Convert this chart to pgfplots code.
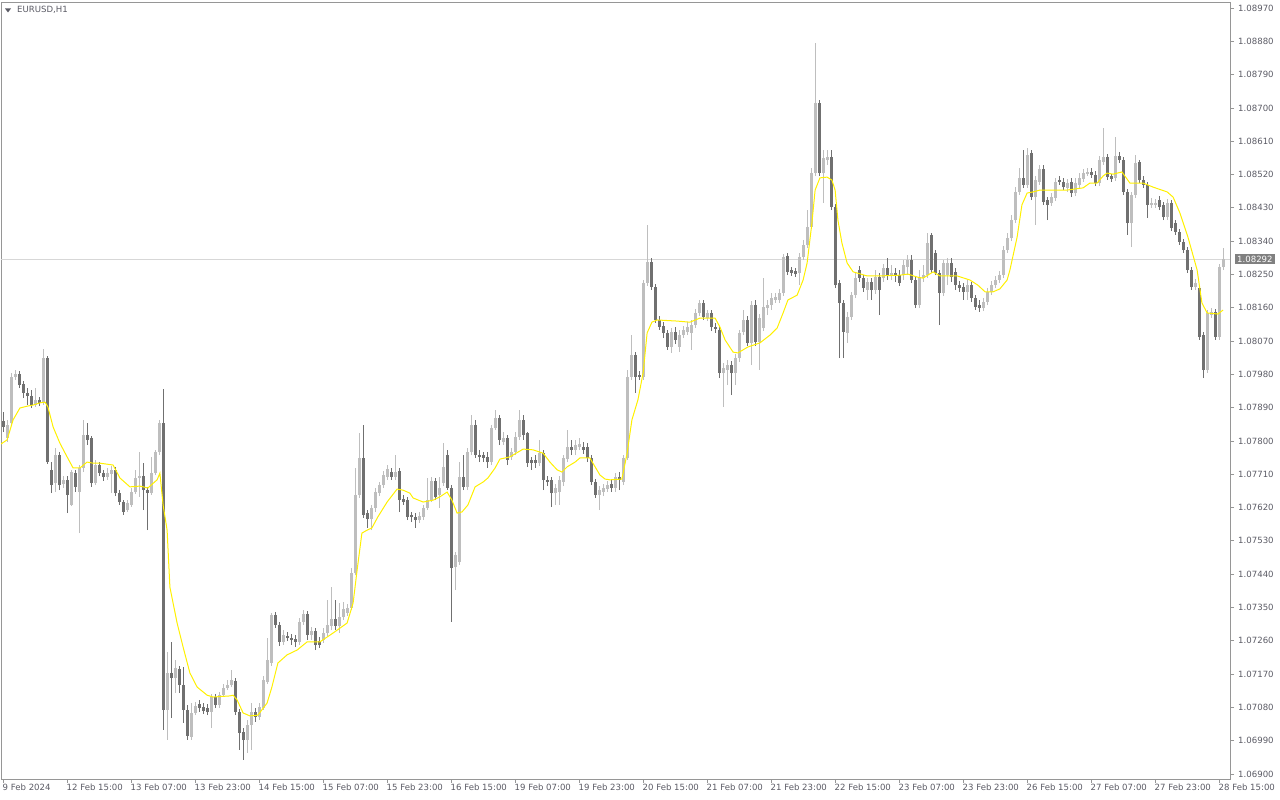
\documentclass[border=0pt]{standalone}
\usepackage{pgfplots}
\pgfplotsset{compat=1.18}
\usepackage{pgfplotstable}
\usepackage{fontspec}
\setmainfont{DejaVu Sans}
\definecolor{upc}{RGB}{190,190,190}
\definecolor{dnc}{RGB}{112,112,112}
\definecolor{mac}{RGB}{255,240,0}
\definecolor{axc}{RGB}{150,150,150}
\definecolor{txc}{RGB}{90,90,100}
\definecolor{pricec}{RGB}{215,215,215}
\definecolor{boxc}{RGB}{128,128,128}

\pgfplotstableread{
i o h l c
0 1.07854 1.07878 1.07824 1.07838
1 1.07808 1.07857 1.07797 1.07843
2 1.07849 1.07984 1.07840 1.07973
3 1.07973 1.07992 1.07965 1.07981
4 1.07981 1.07989 1.07943 1.07951
5 1.07954 1.07962 1.07916 1.07930
6 1.07930 1.07943 1.07897 1.07922
7 1.07922 1.07938 1.07889 1.07897
8 1.07897 1.07943 1.07892 1.07911
9 1.07911 1.07919 1.07894 1.07903
10 1.07903 1.08049 1.07897 1.08024
11 1.08024 1.08030 1.07738 1.07743
12 1.07722 1.07743 1.07659 1.07681
13 1.07686 1.07781 1.07662 1.07762
14 1.07762 1.07770 1.07667 1.07681
15 1.07684 1.07705 1.07673 1.07695
16 1.07695 1.07705 1.07605 1.07654
17 1.07627 1.07722 1.07624 1.07716
18 1.07713 1.07722 1.07662 1.07676
19 1.07662 1.07735 1.07551 1.07727
20 1.07727 1.07857 1.07716 1.07816
21 1.07816 1.07849 1.07789 1.07803
22 1.07808 1.07813 1.07676 1.07686
23 1.07686 1.07749 1.07681 1.07735
24 1.07735 1.07743 1.07705 1.07713
25 1.07713 1.07722 1.07692 1.07703
26 1.07703 1.07727 1.07695 1.07713
27 1.07711 1.07732 1.07659 1.07722
28 1.07722 1.07730 1.07651 1.07659
29 1.07659 1.07667 1.07627 1.07635
30 1.07635 1.07640 1.07600 1.07608
31 1.07613 1.07640 1.07608 1.07632
32 1.07627 1.07673 1.07622 1.07662
33 1.07662 1.07722 1.07657 1.07700
34 1.07700 1.07770 1.07649 1.07705
35 1.07705 1.07740 1.07613 1.07667
36 1.07667 1.07676 1.07559 1.07659
37 1.07659 1.07757 1.07654 1.07713
38 1.07713 1.07776 1.07708 1.07770
39 1.07770 1.07857 1.07762 1.07849
40 1.07849 1.07940 1.07019 1.07073
41 1.07073 1.07230 1.06992 1.07173
42 1.07173 1.07257 1.07051 1.07159
43 1.07159 1.07208 1.07119 1.07186
44 1.07184 1.07192 1.07119 1.07141
45 1.07141 1.07189 1.07038 1.07073
46 1.07073 1.07086 1.06992 1.07003
47 1.07000 1.07092 1.06992 1.07065
48 1.07065 1.07095 1.07059 1.07084
49 1.07089 1.07100 1.07068 1.07078
50 1.07081 1.07092 1.07062 1.07070
51 1.07078 1.07089 1.07059 1.07068
52 1.07068 1.07116 1.07024 1.07108
53 1.07108 1.07116 1.07078 1.07086
54 1.07086 1.07122 1.07078 1.07113
55 1.07113 1.07143 1.07108 1.07132
56 1.07132 1.07154 1.07127 1.07141
57 1.07141 1.07181 1.07135 1.07154
58 1.07151 1.07159 1.07059 1.07068
59 1.07068 1.07076 1.06965 1.07011
60 1.07014 1.07024 1.06938 1.06992
61 1.06992 1.07046 1.06957 1.07032
62 1.07032 1.07092 1.06965 1.07068
63 1.07068 1.07078 1.07041 1.07054
64 1.07054 1.07092 1.07046 1.07081
65 1.07078 1.07165 1.07073 1.07154
66 1.07149 1.07268 1.07143 1.07208
67 1.07200 1.07335 1.07192 1.07330
68 1.07330 1.07338 1.07295 1.07303
69 1.07303 1.07311 1.07246 1.07257
70 1.07257 1.07289 1.07249 1.07276
71 1.07273 1.07284 1.07259 1.07268
72 1.07268 1.07278 1.07249 1.07262
73 1.07265 1.07276 1.07243 1.07257
74 1.07257 1.07322 1.07249 1.07311
75 1.07311 1.07343 1.07303 1.07332
76 1.07332 1.07340 1.07262 1.07276
77 1.07276 1.07297 1.07262 1.07286
78 1.07286 1.07295 1.07235 1.07249
79 1.07259 1.07270 1.07241 1.07249
80 1.07262 1.07295 1.07254 1.07281
81 1.07281 1.07370 1.07273 1.07303
82 1.07300 1.07405 1.07289 1.07319
83 1.07319 1.07370 1.07289 1.07300
84 1.07300 1.07362 1.07281 1.07324
85 1.07324 1.07365 1.07316 1.07346
86 1.07335 1.07359 1.07327 1.07349
87 1.07349 1.07457 1.07343 1.07443
88 1.07443 1.07727 1.07438 1.07654
89 1.07654 1.07822 1.07646 1.07754
90 1.07754 1.07843 1.07592 1.07600
91 1.07605 1.07613 1.07565 1.07589
92 1.07589 1.07627 1.07559 1.07619
93 1.07619 1.07673 1.07608 1.07662
94 1.07659 1.07689 1.07651 1.07681
95 1.07681 1.07719 1.07673 1.07708
96 1.07703 1.07735 1.07695 1.07724
97 1.07716 1.07727 1.07695 1.07703
98 1.07703 1.07762 1.07695 1.07716
99 1.07719 1.07727 1.07608 1.07640
100 1.07643 1.07654 1.07627 1.07635
101 1.07640 1.07649 1.07586 1.07595
102 1.07600 1.07608 1.07581 1.07595
103 1.07595 1.07605 1.07565 1.07586
104 1.07586 1.07608 1.07578 1.07597
105 1.07595 1.07627 1.07586 1.07619
106 1.07619 1.07700 1.07613 1.07640
107 1.07640 1.07703 1.07635 1.07692
108 1.07692 1.07700 1.07640 1.07649
109 1.07654 1.07703 1.07619 1.07673
110 1.07686 1.07794 1.07678 1.07730
111 1.07762 1.07776 1.07667 1.07673
112 1.07673 1.07681 1.07311 1.07457
113 1.07459 1.07500 1.07397 1.07492
114 1.07473 1.07743 1.07465 1.07703
115 1.07703 1.07762 1.07667 1.07676
116 1.07676 1.07781 1.07667 1.07770
117 1.07770 1.07870 1.07762 1.07843
118 1.07843 1.07857 1.07754 1.07762
119 1.07762 1.07776 1.07743 1.07757
120 1.07762 1.07770 1.07743 1.07754
121 1.07757 1.07770 1.07727 1.07743
122 1.07743 1.07843 1.07735 1.07835
123 1.07835 1.07884 1.07830 1.07862
124 1.07862 1.07870 1.07789 1.07803
125 1.07797 1.07824 1.07789 1.07808
126 1.07808 1.07816 1.07735 1.07749
127 1.07757 1.07781 1.07749 1.07770
128 1.07770 1.07824 1.07762 1.07811
129 1.07811 1.07884 1.07803 1.07857
130 1.07857 1.07870 1.07803 1.07816
131 1.07822 1.07824 1.07730 1.07740
132 1.07749 1.07757 1.07722 1.07740
133 1.07749 1.07762 1.07727 1.07740
134 1.07740 1.07803 1.07732 1.07767
135 1.07767 1.07776 1.07667 1.07695
136 1.07695 1.07705 1.07678 1.07689
137 1.07695 1.07703 1.07622 1.07659
138 1.07659 1.07684 1.07627 1.07673
139 1.07662 1.07705 1.07627 1.07695
140 1.07689 1.07762 1.07678 1.07754
141 1.07751 1.07830 1.07743 1.07784
142 1.07784 1.07803 1.07762 1.07776
143 1.07776 1.07803 1.07762 1.07789
144 1.07784 1.07808 1.07776 1.07792
145 1.07784 1.07797 1.07765 1.07776
146 1.07784 1.07794 1.07743 1.07754
147 1.07754 1.07762 1.07681 1.07689
148 1.07689 1.07697 1.07646 1.07654
149 1.07654 1.07678 1.07613 1.07667
150 1.07662 1.07684 1.07651 1.07673
151 1.07670 1.07692 1.07662 1.07681
152 1.07684 1.07695 1.07662 1.07673
153 1.07673 1.07713 1.07662 1.07703
154 1.07703 1.07716 1.07667 1.07695
155 1.07689 1.07762 1.07681 1.07754
156 1.07754 1.07992 1.07749 1.07973
157 1.07973 1.08086 1.07965 1.08032
158 1.08032 1.08040 1.07930 1.07973
159 1.07978 1.07989 1.07965 1.07973
160 1.07973 1.08235 1.07965 1.08227
161 1.08227 1.08384 1.08219 1.08284
162 1.08284 1.08294 1.08208 1.08216
163 1.08216 1.08224 1.08119 1.08127
164 1.08127 1.08138 1.08100 1.08108
165 1.08111 1.08121 1.08078 1.08092
166 1.08092 1.08100 1.08046 1.08054
167 1.08054 1.08105 1.08038 1.08094
168 1.08094 1.08108 1.08062 1.08073
169 1.08054 1.08100 1.08040 1.08086
170 1.08086 1.08111 1.08078 1.08100
171 1.08094 1.08121 1.08086 1.08108
172 1.08092 1.08127 1.08046 1.08113
173 1.08113 1.08157 1.08105 1.08146
174 1.08146 1.08181 1.08138 1.08173
175 1.08173 1.08181 1.08127 1.08135
176 1.08132 1.08154 1.08124 1.08146
177 1.08146 1.08154 1.08097 1.08108
178 1.08108 1.08119 1.08092 1.08103
179 1.08100 1.08108 1.07970 1.07984
180 1.07984 1.08011 1.07892 1.07997
181 1.07992 1.08019 1.07951 1.08005
182 1.08005 1.08016 1.07924 1.07984
183 1.07984 1.08035 1.07951 1.08024
184 1.08024 1.08100 1.08013 1.08092
185 1.08094 1.08154 1.08086 1.08127
186 1.08127 1.08138 1.08057 1.08065
187 1.08065 1.08178 1.08005 1.08167
188 1.08167 1.08181 1.08057 1.08067
189 1.08067 1.08143 1.07992 1.08132
190 1.08105 1.08240 1.08097 1.08162
191 1.08159 1.08181 1.08140 1.08167
192 1.08167 1.08200 1.08154 1.08186
193 1.08181 1.08200 1.08173 1.08189
194 1.08181 1.08211 1.08173 1.08200
195 1.08200 1.08305 1.08192 1.08297
196 1.08300 1.08308 1.08248 1.08257
197 1.08262 1.08270 1.08246 1.08254
198 1.08259 1.08267 1.08243 1.08251
199 1.08254 1.08308 1.08221 1.08297
200 1.08297 1.08343 1.08289 1.08330
201 1.08330 1.08424 1.08321 1.08378
202 1.08378 1.08538 1.08373 1.08524
203 1.08524 1.08875 1.08516 1.08713
204 1.08713 1.08721 1.08516 1.08524
205 1.08524 1.08586 1.08443 1.08565
206 1.08559 1.08586 1.08546 1.08567
207 1.08567 1.08586 1.08424 1.08432
208 1.08432 1.08440 1.08213 1.08221
209 1.08227 1.08235 1.08024 1.08173
210 1.08173 1.08181 1.08024 1.08094
211 1.08092 1.08149 1.08065 1.08135
212 1.08135 1.08203 1.08127 1.08194
213 1.08194 1.08257 1.08186 1.08240
214 1.08262 1.08273 1.08230 1.08240
215 1.08240 1.08248 1.08203 1.08213
216 1.08208 1.08240 1.08181 1.08230
217 1.08230 1.08240 1.08181 1.08208
218 1.08208 1.08262 1.08197 1.08243
219 1.08243 1.08254 1.08140 1.08208
220 1.08240 1.08278 1.08230 1.08267
221 1.08267 1.08294 1.08235 1.08248
222 1.08248 1.08276 1.08235 1.08254
223 1.08254 1.08267 1.08230 1.08246
224 1.08248 1.08262 1.08219 1.08227
225 1.08248 1.08289 1.08235 1.08276
226 1.08270 1.08303 1.08248 1.08289
227 1.08289 1.08303 1.08227 1.08235
228 1.08235 1.08243 1.08159 1.08167
229 1.08167 1.08262 1.08159 1.08240
230 1.08240 1.08276 1.08230 1.08248
231 1.08248 1.08362 1.08240 1.08335
232 1.08357 1.08362 1.08254 1.08262
233 1.08308 1.08316 1.08248 1.08254
234 1.08254 1.08262 1.08113 1.08200
235 1.08200 1.08289 1.08192 1.08281
236 1.08248 1.08294 1.08221 1.08281
237 1.08281 1.08294 1.08230 1.08243
238 1.08257 1.08267 1.08208 1.08221
239 1.08221 1.08232 1.08203 1.08213
240 1.08216 1.08227 1.08181 1.08203
241 1.08203 1.08235 1.08181 1.08221
242 1.08221 1.08230 1.08176 1.08186
243 1.08186 1.08194 1.08154 1.08162
244 1.08167 1.08181 1.08149 1.08159
245 1.08159 1.08186 1.08151 1.08176
246 1.08176 1.08213 1.08167 1.08203
247 1.08203 1.08232 1.08194 1.08221
248 1.08221 1.08246 1.08213 1.08235
249 1.08235 1.08259 1.08227 1.08248
250 1.08248 1.08327 1.08240 1.08316
251 1.08316 1.08362 1.08308 1.08348
252 1.08348 1.08411 1.08340 1.08397
253 1.08397 1.08486 1.08389 1.08473
254 1.08473 1.08538 1.08465 1.08511
255 1.08511 1.08586 1.08484 1.08492
256 1.08492 1.08592 1.08484 1.08573
257 1.08578 1.08586 1.08451 1.08459
258 1.08459 1.08516 1.08384 1.08505
259 1.08500 1.08546 1.08492 1.08535
260 1.08535 1.08546 1.08438 1.08446
261 1.08451 1.08459 1.08397 1.08438
262 1.08443 1.08470 1.08435 1.08459
263 1.08457 1.08511 1.08448 1.08500
264 1.08505 1.08516 1.08492 1.08500
265 1.08500 1.08511 1.08478 1.08486
266 1.08484 1.08508 1.08473 1.08497
267 1.08500 1.08511 1.08459 1.08470
268 1.08470 1.08511 1.08462 1.08497
269 1.08492 1.08524 1.08484 1.08511
270 1.08508 1.08535 1.08500 1.08524
271 1.08521 1.08538 1.08516 1.08527
272 1.08527 1.08538 1.08511 1.08519
273 1.08519 1.08530 1.08489 1.08497
274 1.08497 1.08570 1.08489 1.08559
275 1.08554 1.08646 1.08546 1.08567
276 1.08567 1.08575 1.08505 1.08513
277 1.08516 1.08521 1.08500 1.08508
278 1.08511 1.08621 1.08503 1.08570
279 1.08570 1.08581 1.08551 1.08559
280 1.08559 1.08567 1.08465 1.08473
281 1.08473 1.08481 1.08357 1.08389
282 1.08389 1.08473 1.08324 1.08465
283 1.08465 1.08573 1.08457 1.08551
284 1.08554 1.08559 1.08497 1.08505
285 1.08505 1.08516 1.08484 1.08492
286 1.08492 1.08500 1.08403 1.08438
287 1.08438 1.08457 1.08430 1.08443
288 1.08438 1.08454 1.08430 1.08443
289 1.08451 1.08462 1.08424 1.08432
290 1.08438 1.08446 1.08397 1.08405
291 1.08405 1.08454 1.08397 1.08443
292 1.08443 1.08451 1.08367 1.08376
293 1.08389 1.08397 1.08357 1.08365
294 1.08365 1.08373 1.08330 1.08338
295 1.08338 1.08346 1.08308 1.08316
296 1.08316 1.08324 1.08254 1.08262
297 1.08262 1.08270 1.08208 1.08216
298 1.08216 1.08238 1.08208 1.08227
299 1.08213 1.08221 1.08073 1.08081
300 1.08086 1.08094 1.07970 1.07992
301 1.07992 1.08154 1.07984 1.08146
302 1.08140 1.08159 1.08132 1.08149
303 1.08149 1.08157 1.08073 1.08081
304 1.08081 1.08278 1.08073 1.08270
305 1.08270 1.08321 1.08262 1.08292
}\candles

\begin{document}
\begin{tikzpicture}
\useasboundingbox (0,0) rectangle (1280bp,800bp);
\begin{axis}[
  at={(1bp,21bp)}, anchor=south west,
  width=1229bp, height=777bp, scale only axis,
  xmin=-0.625, xmax=306.625, ymin=1.068865, ymax=1.089863,
  axis line style={draw=axc, line width=0.8bp},
  tick style={draw=axc, line width=0.8bp},
  tick align=outside, major tick length=4bp,
  xtick pos=left, ytick pos=right, yticklabel pos=right,
  scaled y ticks=false,
  xtick={0,16,32,48,64,80,96,112,128,144,160,176,192,208,224,240,256,272,288,304},
  xticklabels={9 Feb 2024,12 Feb 15:00,13 Feb 07:00,13 Feb 23:00,14 Feb 15:00,15 Feb 07:00,15 Feb 23:00,16 Feb 15:00,19 Feb 07:00,19 Feb 23:00,20 Feb 15:00,21 Feb 07:00,21 Feb 23:00,22 Feb 15:00,23 Feb 07:00,23 Feb 23:00,26 Feb 15:00,27 Feb 07:00,27 Feb 23:00,28 Feb 15:00},
  ytick={1.069,1.0699,1.0708,1.0717,1.0726,1.0735,1.0744,1.0753,1.0762,1.0771,1.078,1.0789,1.0798,1.0807,1.0816,1.0825,1.0834,1.0843,1.0852,1.0861,1.087,1.0879,1.0888,1.0897},
  yticklabels={1.06900,1.06990,1.07080,1.07170,1.07260,1.07350,1.07440,1.07530,1.07620,1.07710,1.07800,1.07890,1.07980,1.08070,1.08160,1.08250,1.08340,1.08430,1.08520,1.08610,1.08700,1.08790,1.08880,1.08970},
  /pgf/number format/assume math mode=true,
  tick label style={font=\fontsize{8.6}{10}\selectfont, text=txc},
  xticklabel style={anchor=north west, inner sep=0pt, xshift=-1bp, yshift=-1bp},
  yticklabel style={anchor=west, inner sep=0pt, xshift=4bp},
]
\addplot[pricec, line width=0.8bp, forget plot] coordinates {(-0.625,1.08292) (306.625,1.08292)};
% wicks
\addplot[draw=none, forget plot, restrict expr to domain={\thisrow{c}-\thisrow{o}}{0:1},
  error bars/.cd, y dir=plus, y explicit, error mark=none,
  error bar style={draw=upc, line width=1bp}]
  table[x=i, y=l, y error plus expr=\thisrow{h}-\thisrow{l}] {\candles};
\addplot[draw=none, forget plot, restrict expr to domain={\thisrow{c}-\thisrow{o}}{-1:-0.000001},
  error bars/.cd, y dir=plus, y explicit, error mark=none,
  error bar style={draw=dnc, line width=1bp}]
  table[x=i, y=l, y error plus expr=\thisrow{h}-\thisrow{l}] {\candles};
% bodies
\addplot[draw=none, forget plot, restrict expr to domain={\thisrow{c}-\thisrow{o}}{0:1},
  error bars/.cd, y dir=plus, y explicit, error mark=none,
  error bar style={draw=upc, line width=3bp}]
  table[x=i, y=o, y error plus expr=\thisrow{c}-\thisrow{o}] {\candles};
\addplot[draw=none, forget plot, restrict expr to domain={\thisrow{c}-\thisrow{o}}{-1:-0.000001},
  error bars/.cd, y dir=plus, y explicit, error mark=none,
  error bar style={draw=dnc, line width=3bp}]
  table[x=i, y=c, y error plus expr=\thisrow{o}-\thisrow{c}] {\candles};
% moving average
\addplot[mac, line width=1bp, forget plot] coordinates {
(-0.6,1.07792) (0.9,1.07803) (2.4,1.07857) (4.1,1.07889) (5.9,1.07894) (7.4,1.07897) (9.1,1.07903) (10.4,1.07905) (11.1,1.07892) (12.4,1.07838) (14.1,1.07794) (15.9,1.07757) (17.4,1.07727) (19.1,1.07727) (20.9,1.07743) (22.4,1.07740) (24.1,1.07740) (27.4,1.07735) (29.1,1.07700) (31.6,1.07676) (34.1,1.07678) (36.1,1.07673) (38.4,1.07695) (39.1,1.07713) (39.9,1.07627) (40.9,1.07559) (41.6,1.07405) (43.4,1.07308) (44.9,1.07243) (46.6,1.07173) (48.4,1.07135) (50.9,1.07113) (52.4,1.07108) (56.6,1.07111) (57.4,1.07113) (58.4,1.07100) (59.9,1.07065) (61.6,1.07057) (63.6,1.07059) (65.9,1.07092) (67.1,1.07135) (68.6,1.07200) (70.9,1.07222) (73.4,1.07235) (75.9,1.07257) (79.1,1.07257) (82.4,1.07281) (85.9,1.07308) (87.4,1.07362) (88.4,1.07451) (89.6,1.07551) (90.9,1.07559) (92.1,1.07565) (93.6,1.07595) (95.9,1.07635) (98.4,1.07670) (99.9,1.07667) (101.6,1.07659) (102.4,1.07646) (104.9,1.07635) (107.4,1.07640) (109.1,1.07649) (110.9,1.07662) (112.1,1.07640) (113.4,1.07605) (114.6,1.07608) (116.1,1.07627) (117.9,1.07676) (119.9,1.07689) (121.1,1.07700) (122.9,1.07727) (124.1,1.07751) (126.6,1.07757) (129.9,1.07778) (132.4,1.07776) (134.9,1.07767) (136.6,1.07743) (138.4,1.07722) (139.6,1.07716) (140.9,1.07730) (142.9,1.07743) (144.1,1.07754) (146.6,1.07754) (147.9,1.07730) (149.1,1.07708) (150.4,1.07697) (151.6,1.07695) (154.6,1.07697) (155.9,1.07767) (157.1,1.07857) (158.6,1.07911) (159.9,1.07984) (160.9,1.08092) (162.1,1.08121) (163.4,1.08127) (168.4,1.08124) (171.6,1.08121) (174.1,1.08132) (177.9,1.08132) (179.1,1.08108) (180.4,1.08073) (182.4,1.08040) (183.6,1.08038) (186.1,1.08054) (189.1,1.08065) (191.6,1.08086) (193.4,1.08105) (194.9,1.08146) (196.1,1.08181) (198.4,1.08194) (199.9,1.08235) (200.9,1.08281) (202.1,1.08389) (202.9,1.08478) (204.1,1.08511) (205.9,1.08513) (207.1,1.08505) (207.9,1.08478) (208.6,1.08397) (209.6,1.08335) (210.9,1.08281) (212.4,1.08257) (215.9,1.08246) (219.1,1.08246) (224.1,1.08248) (226.1,1.08251) (228.4,1.08243) (229.9,1.08240) (232.4,1.08257) (234.1,1.08246) (238.4,1.08246) (241.6,1.08235) (243.6,1.08221) (245.4,1.08203) (247.4,1.08203) (249.1,1.08211) (250.9,1.08235) (251.6,1.08262) (253.4,1.08351) (254.6,1.08438) (255.9,1.08470) (257.4,1.08473) (259.1,1.08478) (265.9,1.08478) (269.9,1.08484) (271.6,1.08497) (273.4,1.08497) (274.9,1.08516) (275.9,1.08524) (277.4,1.08521) (279.6,1.08527) (281.6,1.08497) (284.9,1.08497) (287.4,1.08486) (290.9,1.08473) (292.4,1.08459) (294.1,1.08416) (296.1,1.08351) (298.4,1.08262) (299.6,1.08173) (300.9,1.08146) (303.6,1.08143) (304.9,1.08154)
};
\end{axis}
\node[fill=boxc, text=white, font=\fontsize{8.6}{10}\selectfont, inner xsep=2bp, inner ysep=1.5bp, anchor=west] at (1235bp,541bp) {1.08292};
\fill[txc] (5bp,791.5bp) -- (11bp,791.5bp) -- (8bp,787.5bp) -- cycle;
\node[anchor=west, inner sep=0pt, font=\fontsize{8.6}{10}\selectfont, text=txc] at (17bp,790bp) {EURUSD,H1};
\end{tikzpicture}
\end{document}
